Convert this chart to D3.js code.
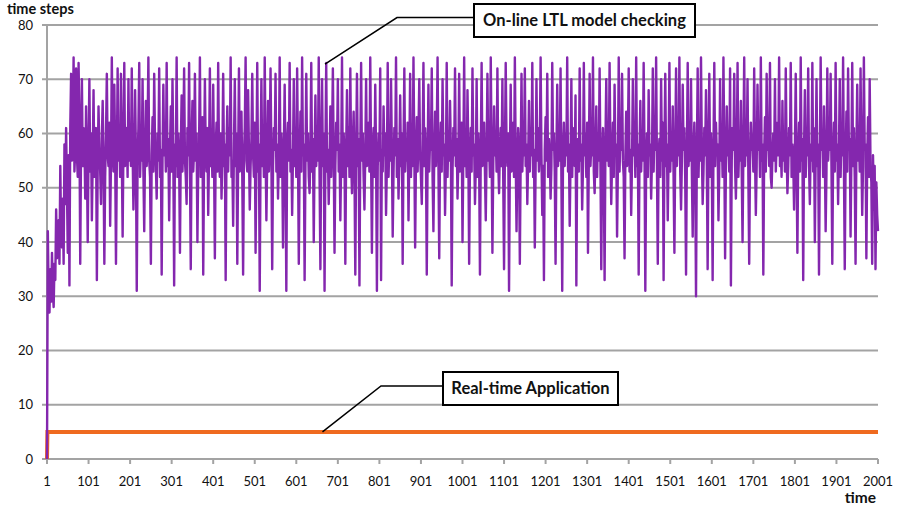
<!DOCTYPE html>
<html>
<head>
<meta charset="utf-8">
<script src="https://cdn.jsdelivr.net/npm/d3@7/dist/d3.min.js"></script>
<style>
  body { margin: 0; background: #fff; }
  svg { display: block; }
  text { font-family: Lato, "Open Sans", sans-serif; fill: #111; }
</style>
</head>
<body>
<div id="content"></div>
<script>
var width = 898;
var height = 508;

var yTicks = [0, 10, 20, 30, 40, 50, 60, 70, 80];
var xTicks = [1, 101, 201, 301, 401, 501, 601, 701, 801, 901, 1001,
              1101, 1201, 1301, 1401, 1501, 1601, 1701, 1801, 1901, 2001];

// on-line LTL model checking, one reading every 2 time units starting at t=1
var onlineStart = 1;
var onlineStep = 2;
var onlineValues = [
    0, 42, 30, 27, 35, 29, 38, 31, 28, 36, 33, 46, 37, 40, 44, 36, 54, 41, 39, 48, 36, 58, 47, 61, 50,
    38, 56, 32, 61, 71, 55, 60, 74, 53, 57, 72, 56, 52, 73, 62, 36, 58, 70, 54, 61, 59, 48, 65, 55, 40,
    57, 70, 53, 60, 44, 55, 68, 52, 58, 61, 33, 54, 65, 57, 53, 47, 59, 66, 55, 36, 52, 60, 71, 56, 54,
    62, 43, 55, 74, 58, 53, 69, 57, 36, 54, 72, 55, 60, 52, 71, 56, 41, 58, 73, 54, 57, 61, 52, 70, 55,
    59, 54, 72, 57, 46, 53, 68, 56, 31, 55, 61, 73, 52, 58, 55, 70, 53, 42, 57, 66, 54, 60, 74, 55, 52,
    36, 56, 63, 53, 71, 58, 54, 48, 60, 55, 72, 52, 57, 34, 55, 69, 56, 61, 53, 73, 54, 59, 44, 57, 65,
    53, 70, 56, 32, 58, 54, 74, 52, 60, 55, 38, 57, 67, 53, 59, 72, 55, 52, 47, 61, 56, 73, 54, 35, 58,
    66, 53, 57, 71, 55, 60, 40, 54, 58, 74, 52, 56, 63, 34, 55, 70, 57, 53, 61, 45, 56, 72, 54, 59, 52,
    69, 55, 37, 57, 62, 53, 73, 56, 52, 60, 48, 55, 71, 54, 58, 33, 57, 65, 53, 61, 56, 74, 52, 55, 43,
    58, 70, 54, 60, 36, 55, 72, 53, 57, 64, 52, 34, 56, 61, 74, 55, 53, 68, 57, 46, 54, 59, 71, 56, 52,
    62, 38, 55, 73, 53, 58, 31, 56, 70, 54, 60, 52, 74, 57, 44, 55, 66, 53, 59, 72, 56, 35, 54, 61, 57,
    71, 53, 58, 48, 55, 74, 52, 60, 56, 39, 57, 69, 54, 31, 58, 62, 55, 73, 53, 57, 45, 56, 70, 54, 59,
    52, 72, 57, 36, 55, 64, 53, 74, 56, 58, 33, 54, 71, 55, 60, 52, 49, 57, 73, 53, 59, 40, 56, 67, 54,
    61, 55, 74, 52, 35, 58, 70, 54, 60, 31, 56, 73, 53, 57, 47, 55, 65, 52, 59, 72, 56, 38, 54, 62, 57,
    70, 53, 58, 44, 55, 74, 52, 60, 56, 36, 57, 68, 54, 61, 52, 72, 55, 49, 58, 64, 53, 34, 56, 71, 54,
    59, 32, 57, 73, 55, 60, 52, 46, 56, 70, 54, 58, 62, 53, 74, 55, 38, 57, 61, 52, 69, 56, 31, 54, 60,
    55, 72, 33, 57, 53, 65, 56, 60, 45, 54, 73, 52, 58, 55, 70, 57, 41, 53, 61, 56, 74, 52, 59, 48, 55,
    67, 54, 60, 36, 57, 72, 53, 58, 55, 62, 44, 56, 71, 52, 59, 54, 74, 57, 39, 55, 63, 53, 60, 70, 56,
    52, 47, 58, 73, 54, 61, 56, 34, 55, 69, 53, 59, 57, 72, 52, 42, 56, 64, 54, 60, 74, 55, 37, 57, 62,
    53, 70, 56, 58, 45, 54, 73, 52, 60, 55, 66, 57, 32, 53, 61, 56, 72, 54, 59, 48, 55, 71, 53, 57, 62,
    40, 56, 74, 54, 59, 52, 68, 57, 36, 55, 61, 53, 72, 56, 58, 47, 54, 70, 52, 60, 55, 34, 57, 73, 54,
    59, 62, 53, 44, 56, 71, 55, 58, 52, 74, 57, 38, 54, 65, 56, 60, 53, 72, 55, 49, 57, 61, 54, 70, 52,
    35, 56, 73, 58, 54, 60, 31, 55, 69, 53, 57, 62, 52, 74, 56, 42, 54, 61, 57, 36, 55, 71, 53, 59, 56,
    72, 54, 58, 47, 55, 66, 53, 60, 56, 73, 52, 57, 39, 54, 70, 55, 61, 53, 58, 74, 56, 45, 54, 33, 57,
    63, 55, 71, 52, 59, 56, 48, 54, 73, 57, 60, 53, 36, 56, 69, 54, 58, 55, 72, 52, 31, 57, 62, 54, 60,
    56, 74, 53, 58, 43, 55, 70, 52, 61, 57, 54, 67, 32, 56, 59, 53, 72, 55, 58, 46, 54, 73, 56, 60, 52,
    62, 38, 55, 71, 54, 58, 56, 74, 53, 49, 57, 65, 52, 60, 55, 72, 54, 35, 56, 61, 53, 33, 58, 70, 55,
    59, 54, 73, 57, 47, 55, 62, 52, 69, 56, 58, 41, 54, 74, 53, 60, 57, 71, 55, 52, 37, 56, 64, 54, 59,
    72, 53, 57, 45, 55, 70, 56, 61, 52, 74, 54, 58, 34, 56, 66, 53, 59, 55, 73, 57, 31, 54, 60, 52, 68,
    56, 58, 48, 55, 72, 53, 61, 57, 74, 54, 36, 56, 59, 52, 70, 55, 62, 33, 57, 71, 54, 58, 44, 56, 73,
    53, 60, 55, 65, 52, 38, 57, 72, 54, 59, 56, 74, 53, 46, 55, 69, 57, 61, 52, 34, 56, 73, 54, 58, 55,
    70, 53, 41, 57, 62, 54, 30, 56, 72, 52, 59, 55, 74, 57, 47, 53, 61, 56, 68, 54, 35, 58, 71, 52, 60,
    55, 33, 57, 73, 54, 62, 56, 58, 44, 53, 70, 55, 60, 52, 74, 57, 37, 54, 65, 56, 59, 53, 72, 32, 55,
    61, 57, 71, 54, 48, 56, 73, 52, 58, 55, 66, 53, 40, 57, 74, 54, 60, 56, 70, 52, 36, 55, 62, 57, 59,
    53, 72, 56, 45, 54, 69, 57, 61, 52, 74, 55, 58, 34, 56, 63, 53, 71, 57, 59, 54, 73, 52, 50, 56, 60,
    55, 70, 53, 58, 62, 56, 74, 54, 57, 52, 66, 55, 60, 53, 72, 57, 49, 54, 61, 56, 73, 52, 58, 55, 46,
    57, 71, 54, 38, 56, 62, 53, 74, 55, 59, 33, 57, 68, 52, 60, 56, 72, 54, 47, 58, 55, 73, 53, 61, 40,
    56, 70, 54, 58, 34, 55, 74, 57, 60, 52, 65, 56, 42, 53, 72, 55, 59, 57, 71, 54, 36, 56, 62, 53, 73,
    55, 58, 47, 57, 70, 52, 60, 56, 74, 54, 35, 55, 64, 53, 72, 57, 59, 41, 56, 73, 54, 61, 52, 36, 57,
    69, 55, 60, 53, 72, 56, 45, 54, 74, 57, 58, 37, 55, 63, 52, 70, 54, 51, 36, 56, 46, 54, 35, 51, 45,
    42
];

// real-time application: 0 at t=1, then constant 5 up to t=2001
var realTimeTimes = [1, 2, 2001];
var realTimeValues = [0, 5, 5];

var svg = d3.select('div#content').append('svg')
    .attr('width', width)
    .attr('height', height);

var x = d3.scaleLinear().domain([1, 2001]).range([47, 878]);
var y = d3.scaleLinear().domain([0, 80]).range([459, 25]);

// gridlines (with short tick stub left of the axis)
svg.append('g').selectAll('line')
    .data(yTicks).enter()
    .append('line')
        .attr('x1', x(1) - 5)
        .attr('x2', x(2001))
        .attr('y1', function(d){ return y(d); })
        .attr('y2', function(d){ return y(d); })
        .attr('stroke', '#a3a3a3')
        .attr('stroke-width', 2);

// axes
svg.append('line')
    .attr('x1', x(1)).attr('x2', x(1))
    .attr('y1', y(80)).attr('y2', y(0))
    .attr('stroke', '#a3a3a3').attr('stroke-width', 2);

svg.append('g').selectAll('line')
    .data(xTicks).enter()
    .append('line')
        .attr('x1', function(d){ return x(d); })
        .attr('x2', function(d){ return x(d); })
        .attr('y1', y(0))
        .attr('y2', y(0) + 5)
        .attr('stroke', '#a3a3a3')
        .attr('stroke-width', 2);

svg.append('g').selectAll('text')
    .data(yTicks).enter()
    .append('text')
        .attr('x', 33)
        .attr('y', function(d){ return y(d); })
        .attr('dy', '0.35em')
        .attr('text-anchor', 'end')
        .style('font-size', '13px')
        .text(function(d){ return d; });

svg.append('g').selectAll('text')
    .data(xTicks).enter()
    .append('text')
        .attr('x', function(d){ return x(d); })
        .attr('y', 481)
        .attr('dy', '0.35em')
        .attr('text-anchor', 'middle')
        .style('font-size', '13px')
        .text(function(d){ return d; });

svg.append('text')
    .attr('x', 7).attr('y', 14)
    .style('font-size', '14.5px').style('font-weight', 'bold')
    .text('time steps');

svg.append('text')
    .attr('x', 876).attr('y', 498).attr('dy', '0.35em')
    .attr('text-anchor', 'end')
    .style('font-size', '15.5px').style('font-weight', 'bold')
    .text('time');

// series
var realLine = d3.line()
    .x(function(d, i){ return x(realTimeTimes[i]); })
    .y(function(d){ return y(d); });

svg.append('path')
    .datum(realTimeValues)
    .attr('d', realLine)
    .attr('fill', 'none')
    .attr('stroke', '#ef6a1f')
    .attr('stroke-width', 4);

var onlineLine = d3.line()
    .x(function(d, i){ return x(onlineStart + i * onlineStep); })
    .y(function(d){ return y(d); });

svg.append('path')
    .datum(onlineValues)
    .attr('d', onlineLine)
    .attr('fill', 'none')
    .attr('stroke', '#8427ae')
    .attr('stroke-width', 2.4)
    .attr('stroke-linejoin', 'round');

// callouts
var callouts = [
    {label: 'On-line LTL model checking', t: 670, v: 72.8, elbow: [397, 17.5], box: [474, 4, 221, 33]},
    {label: 'Real-time Application', t: 664, v: 5, elbow: [381, 386], box: [443, 372, 175, 33]}
];

var c = svg.append('g').selectAll('g')
    .data(callouts).enter()
    .append('g');

c.append('polyline')
    .attr('points', function(d){
        return [[x(d.t), y(d.v)], d.elbow, [d.box[0], d.elbow[1]]].join(' ');
    })
    .attr('fill', 'none')
    .attr('stroke', '#000')
    .attr('stroke-width', 1.5);

c.append('rect')
    .attr('x', function(d){ return d.box[0]; })
    .attr('y', function(d){ return d.box[1]; })
    .attr('width', function(d){ return d.box[2]; })
    .attr('height', function(d){ return d.box[3]; })
    .attr('fill', '#fff')
    .attr('stroke', '#000')
    .attr('stroke-width', 2);

c.append('text')
    .attr('x', function(d){ return d.box[0] + d.box[2] / 2; })
    .attr('y', function(d){ return d.box[1] + d.box[3] / 2; })
    .attr('dy', '0.35em')
    .attr('text-anchor', 'middle')
    .style('font-size', '16.5px')
    .style('font-weight', 'bold')
    .text(function(d){ return d.label; });
</script>
</body>
</html>
